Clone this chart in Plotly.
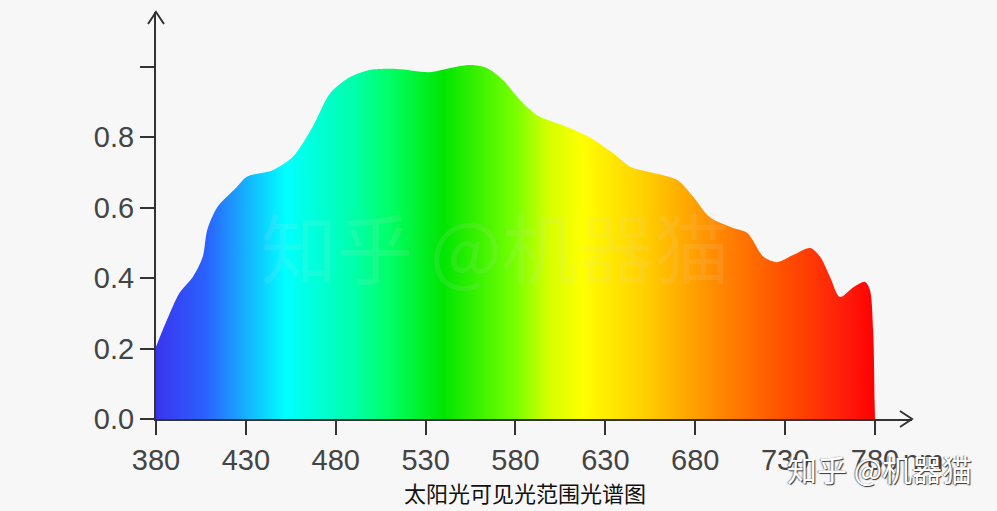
import plotly.graph_objects as go

# ---- data ----
wavelength = [380, 386, 393, 400.5, 406, 408.5, 414, 425, 430.5, 445, 456, 467, 477, 488, 499, 514,
              532, 544, 555, 564, 573, 582.5, 592, 606, 621, 634, 644, 655, 670, 679, 688, 701,
              709, 718, 725.5, 734.5, 744, 749.5, 755, 760.5, 768, 774.5, 777.2, 779, 779.8, 780]
intensity = [0.205, 0.28, 0.357, 0.403, 0.46, 0.536, 0.60, 0.658, 0.687, 0.706, 0.743, 0.828, 0.925,
             0.970, 0.990, 0.993, 0.984, 0.996, 1.004, 0.996, 0.962, 0.905, 0.862, 0.834, 0.800,
             0.755, 0.715, 0.700, 0.678, 0.630, 0.573, 0.542, 0.528, 0.46, 0.445, 0.465, 0.485,
             0.46, 0.403, 0.346, 0.374, 0.389, 0.366, 0.252, 0.05, 0.0]

grad_wl = [380, 408, 426, 452, 491, 510, 540, 580, 598, 617, 654, 691, 729, 765, 780]
grad_col = ["#3a34ee", "#2a62ff", "#1aa2ff", "#00ffff", "#00ffa8", "#00ff66", "#00e600",
            "#78ff00", "#d4ff00", "#ffff00", "#ffcc00", "#ff8c00", "#ff5000", "#ff1a0a", "#ff0000"]

x_ticks = [380, 430, 480, 530, 580, 630, 680, 730, 780]
x_labels = ["380", "430", "480", "530", "580", "630", "680", "730", "780"]
y_ticks = [0.0, 0.2, 0.4, 0.6, 0.8, 1.0]
y_labels = ["0.0", "0.2", "0.4", "0.6", "0.8", ""]

title_text = "太阳光可见光范围光谱图"
watermark = "知乎 @机器猫"

# ---- figure ----
span = grad_wl[-1] - grad_wl[0]
colorscale = [[(w - grad_wl[0]) / span, c] for w, c in zip(grad_wl, grad_col)]

fig = go.Figure()
fig.add_trace(go.Scatter(
    x=wavelength, y=intensity, mode="lines",
    line=dict(shape="spline", smoothing=0.8, width=0, color="rgba(0,0,0,0)"),
    fill="tozeroy",
    fillgradient=dict(type="horizontal", colorscale=colorscale,
                      start=grad_wl[0], stop=grad_wl[-1]),
    hoverinfo="skip", showlegend=False,
))

bg = "#f7f7f7"
axis_col = "#333333"
lab_font = dict(family="Liberation Sans, Arial, sans-serif", size=29, color="#444444")

L, R, T, B = 156, 912, 12, 419
W = R - L
H = B - T

fig.update_layout(
    width=997, height=511,
    paper_bgcolor=bg, plot_bgcolor=bg,
    margin=dict(l=L, r=997 - R, t=T, b=511 - B),
    xaxis=dict(range=[380, 800.6], tickvals=x_ticks, ticktext=x_labels,
               showgrid=False, zeroline=False, showline=True, linecolor=axis_col, linewidth=2,
               ticks="outside", ticklen=14, tickwidth=2, tickcolor=axis_col,
               tickfont=lab_font, fixedrange=True),
    yaxis=dict(range=[0, 1.1546], tickvals=y_ticks, ticktext=y_labels,
               showgrid=False, zeroline=False, showline=True, linecolor=axis_col, linewidth=2,
               ticks="outside", ticklen=14, tickwidth=2, tickcolor=axis_col,
               tickfont=lab_font, fixedrange=True),
    showlegend=False,
)

# open arrowheads
fig.add_shape(type="path", xref="paper", yref="paper",
              xsizemode="pixel", ysizemode="pixel", xanchor=0, yanchor=1,
              path="M -8,-12 L 0,0 L 8,-12", line=dict(color=axis_col, width=2))
fig.add_shape(type="path", xref="paper", yref="paper",
              xsizemode="pixel", ysizemode="pixel", xanchor=1, yanchor=0,
              path="M -12,8 L 0,0 L -12,-8", line=dict(color=axis_col, width=2))

# "nm" unit after the last tick label
fig.add_annotation(x=780, xref="x", y=0, yref="y", text="nm", showarrow=False,
                   xanchor="left", yanchor="top", xshift=26, yshift=-24,
                   font=lab_font)

# title below chart
fig.add_annotation(x=(525 - L) / W, xref="paper", y=-(492 - B) / H, yref="paper",
                   yanchor="middle", text=title_text, showarrow=False,
                   font=dict(family="Noto Sans CJK SC", size=22, color="#111111"))

# faint center watermark
fig.add_annotation(x=(495 - L) / W, xref="paper", y=(B - 245) / H, yref="paper",
                   text=watermark, showarrow=False,
                   font=dict(family="Noto Sans CJK SC", size=76, color="rgba(220,220,220,0.11)"))

# bottom-right watermark
fig.add_annotation(x=(785 - L) / W, xref="paper", xanchor="left",
                   y=-(468 - B) / H, yref="paper", yanchor="middle",
                   text=watermark, showarrow=False,
                   font=dict(family="Noto Sans CJK SC", size=30, color="#ffffff",
                             shadow="1px 1px 1px #333, -1px 0px 1px #888"))

fig.write_html("out.html", config={"displayModeBar": False},
               post_script="document.body.style.margin='0';document.body.style.background='#f7f7f7';")
